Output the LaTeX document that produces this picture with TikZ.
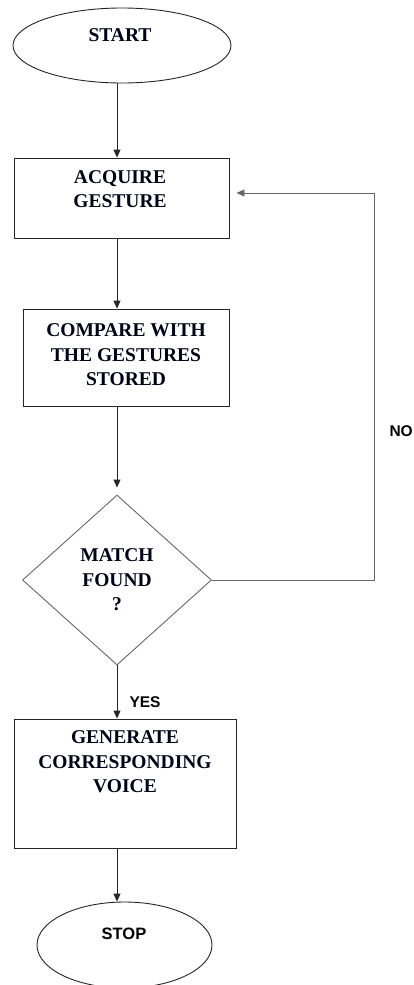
\documentclass[tikz,border=0pt]{standalone}
\usepackage{fontspec}
\setmainfont{Liberation Serif}
\newfontfamily\labelsans{Liberation Sans}
\usetikzlibrary{shapes.geometric,arrows.meta}
\begin{document}
\begin{tikzpicture}[x=1pt,y=-1pt,
  shapeline/.style={draw=black!85,line width=0.9pt,inner sep=0pt},
  boxtext/.style={font=\fontsize{19.5}{24.5}\selectfont\bfseries,align=center,text=black!90!blue},
  sanslabel/.style={font=\labelsans\fontsize{15.5}{18}\selectfont\bfseries,text=black},
  arr/.style={draw=black!85,line width=0.9pt,-{Triangle[length=8pt,width=7pt]}}]
\useasboundingbox (0,0) rectangle (414,985);
% shapes
\node[shapeline,ellipse,minimum width=218pt,minimum height=75pt] (start) at (122,45.5) {};
\node[shapeline,rectangle,minimum width=215pt,minimum height=80pt] (acq) at (121.5,198) {};
\node[shapeline,rectangle,minimum width=206pt,minimum height=97pt] (cmp) at (126,357.5) {};
\node[shapeline,diamond,draw=black!60,minimum width=189pt,minimum height=170pt] (dec) at (117,580) {};
\node[shapeline,rectangle,minimum width=222pt,minimum height=129pt] (gen) at (125,783.5) {};
\node[shapeline,ellipse,minimum width=175pt,minimum height=86pt] (stop) at (124.5,945) {};
% texts
\node[boxtext] (tstart) at (120,35) {START};
\node[boxtext] (tacq) at (120,189) {ACQUIRE\\GESTURE};
\node[boxtext] (tcmp) at (126,355) {COMPARE WITH\\THE GESTURES\\STORED};
\node[boxtext] (tdec) at (117,580) {MATCH\\FOUND\\?};
\node[boxtext] (tgen) at (125,762) {GENERATE\\CORRESPONDING\\VOICE};
\node[sanslabel,font=\labelsans\fontsize{16.5}{18}\selectfont\bfseries] (tstop) at (124,934) {STOP};
\node[sanslabel,anchor=west] (yes) at (126,702) {YES};
\node[sanslabel,anchor=west] (no) at (386,431) {NO};
% connectors
\draw[arr] (start.south -| dec.north) -- (acq.north -| dec.north);
\draw[arr] (acq.south -| dec.north) -- (cmp.north -| dec.north);
\draw[arr] (cmp.south -| dec.north) -- ([yshift=7pt]dec.north);
\draw[arr] (dec.south) -- (gen.north -| dec.south);
\draw[arr] (gen.south -| dec.south) -- (stop.north -| dec.south);
\coordinate (fb) at (374,193);
\draw[arr,draw=black!60] (dec.east) -| (fb) -- ([xshift=7pt]fb -| acq.east);
\end{tikzpicture}
\end{document}
